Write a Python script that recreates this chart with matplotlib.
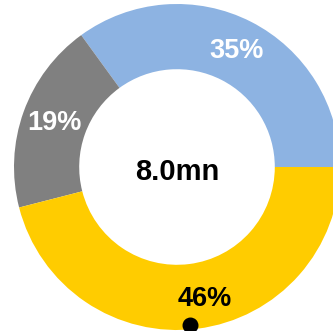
import numpy as np
import matplotlib
matplotlib.use("Agg")
import matplotlib.pyplot as plt

plt.rcParams['font.family'] = ['Liberation Sans', 'DejaVu Sans']

# Data from the chart
labels = ["Blue", "Grey", "Yellow"]
shares = [35, 19, 46]
colors = ["#8DB3E2", "#808080", "#FFCC00"]
label_colors = ["white", "white", "black"]
total_text = "8.0mn"

fig = plt.figure(figsize=(3.33, 3.31), dpi=100)
fig.patch.set_facecolor("white")
ax = fig.add_axes([0, 0, 1, 1])

wedges, texts, autotexts = ax.pie(
    shares, colors=colors, startangle=0, counterclock=True,
    wedgeprops=dict(width=0.4, edgecolor="none"),
    autopct="%d%%", pctdistance=0.8,
    textprops=dict(fontsize=19.5, fontweight="bold"))

for t, c in zip(autotexts, label_colors):
    t.set_color(c)

# the bottom label sits a little off the wedge middle
ang = np.deg2rad(-78)
autotexts[2].set_position((0.83 * np.cos(ang), 0.83 * np.sin(ang)))

# small marker at the bottom of the ring
dot_ang = np.deg2rad(-85.3)
ax.scatter([0.97 * np.cos(dot_ang)], [0.97 * np.sin(dot_ang)], s=110,
           color="black", zorder=5, clip_on=False)

ax.text(0, -0.03, total_text, ha="center", va="center",
        fontsize=21, fontweight="bold", color="black")

# place the ring centre where the original image has it
R = 163.0
cx, cy = 177.0, 167.0
ax.set_aspect("auto")
ax.set_xlim(-cx / R, (333 - cx) / R)
ax.set_ylim(-(331 - cy) / R, cy / R)
ax.axis("off")

fig.savefig("out.png", dpi=100)
